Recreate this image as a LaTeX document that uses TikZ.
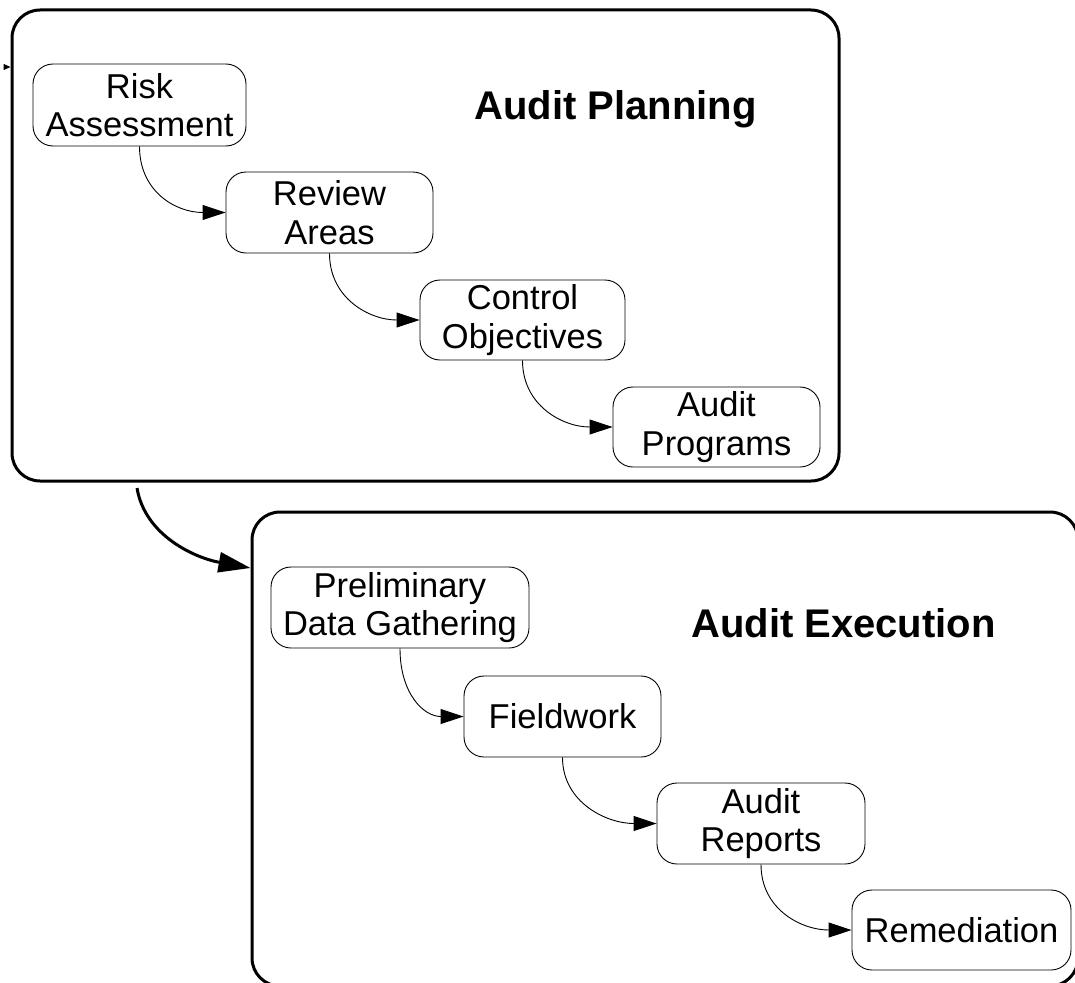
\documentclass[tikz,border=0pt]{standalone}
\usepackage{fontspec}
\setmainfont{Liberation Sans}
\usetikzlibrary{arrows.meta}
\begin{document}
\begin{tikzpicture}[x=1pt,y=-1pt,
  stage/.style={draw=black, line width=3pt, rounded corners=28pt, inner sep=0pt},
  task/.style={draw=black, line width=0.9pt, rounded corners=20pt, align=center, inner sep=0pt,
    font=\fontsize{34.5}{38.5}\selectfont, minimum height=81pt},
  flow/.style={line width=0.9pt, -{Triangle[length=23pt,width=15pt]}},
  bigflow/.style={line width=3pt, -{Triangle[length=32pt,width=20pt]}},
  tiny/.style={line width=1pt, -{Triangle[length=7pt,width=6pt]}},
  title/.style={font=\bfseries\fontsize{40}{48}\selectfont, anchor=base}]
\useasboundingbox (0,0) rectangle (1075,982);
% stage boxes
\node[stage, minimum width=827pt, minimum height=471pt] (plan) at (425.5,245.5) {};
\node[stage, minimum width=826pt, minimum height=474pt] (exec) at (665,749) {};
\node[title] (plantitle) at (615.5,119) {Audit Planning};
\node[title] (exectitle) at (843.5,637) {Audit Execution};
% planning tasks
\node[task, minimum width=213pt, minimum height=82pt] (risk) at (139.5,105) {Risk\\Assessment};
\node[task, minimum width=207pt] (review) at (329.5,212.5) {Review\\Areas};
\node[task, minimum width=205pt, minimum height=80pt] (control) at (522.5,320) {Control\\Objectives};
\node[task, minimum width=207pt, minimum height=80pt] (programs) at (716.5,427) {Audit\\Programs};
% execution tasks
\node[task, minimum width=258pt] (prelim) at (400,607.5) {Preliminary\\Data Gathering};
\node[task, minimum width=197pt] (field) at (562.5,716.5) {Fieldwork};
\node[task, minimum width=208pt] (reports) at (761,823.5) {Audit\\Reports};
\node[task, minimum width=219pt, minimum height=80pt] (remed) at (961.5,930) {Remediation};
% connectors
\draw[flow] (risk.south) .. controls +(0,45) and +(-50,0) .. (review.west);
\draw[flow] (review.south) .. controls +(0,45) and +(-50,0) .. (control.west);
\draw[flow] (control.south) .. controls +(0,45) and +(-50,0) .. (programs.west);
\draw[flow] (prelim.south) .. controls +(0,45) and +(-40,0) .. (field.west);
\draw[flow] (field.south) .. controls +(0,45) and +(-50,0) .. (reports.west);
\draw[flow] (reports.south) .. controls +(0,45) and +(-50,0) .. (remed.west);
\coordinate (bigstart) at (137,488);
\coordinate (bigend) at (exec.west |- 0,568);
\draw[bigflow] (bigstart) .. controls +(8,48) and +(-55,-10) .. (bigend);
\coordinate (ext) at (4,67);
\draw[tiny] (ext) -- (ext -| plan.west);
\end{tikzpicture}
\end{document}
